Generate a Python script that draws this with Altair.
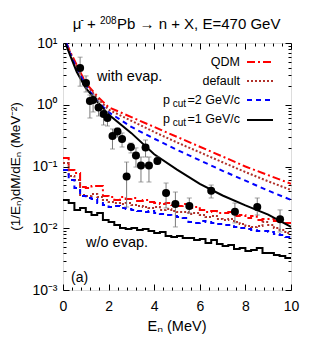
import altair as alt
import pandas as pd

FONT = "Liberation Sans"
FONT2 = "Liberation Sans, Noto Sans, DejaVu Sans"

# ---------------- data ----------------
# with-evaporation curves (E in MeV, value in MeV^-2)
E_black = [0.1, 0.3, 0.6, 1.0, 1.5, 2.0, 3.0, 4.0, 5.0, 6.0, 7.0, 8.0, 9.0, 10.0]
v_black = [10, 6.46, 3.43, 1.86, 1.12, 0.692, 0.347, 0.158, 0.0891, 0.0525, 0.0339, 0.0234, 0.0166, 0.0105]

E_other = [0.15, 0.3, 0.5, 1.0, 1.5, 2.0, 3.0, 4.0, 5.0, 6.0, 7.0, 8.0, 9.0, 10.0]
v_qdm = [10, 7.41, 5.25, 2.24, 1.38, 0.912, 0.631, 0.437, 0.302, 0.209, 0.145, 0.100, 0.0724, 0.0525]
v_default = [10, 7.24, 5.01, 2.14, 1.29, 0.832, 0.550, 0.363, 0.245, 0.170, 0.117, 0.0813, 0.0575, 0.0417]
v_pcut2 = [10, 6.92, 4.68, 2.0, 1.15, 0.759, 0.437, 0.282, 0.186, 0.126, 0.0851, 0.0589, 0.0407, 0.0288]

# without-evaporation histograms, 0.25 MeV bins from 0 to 10 MeV
h_black = [0.0287, 0.0256, 0.0198, 0.0213, 0.0183, 0.0164, 0.0177, 0.0136, 0.0126, 0.0113,
           0.0101, 0.00972, 0.0101, 0.00937, 0.00972, 0.00902, 0.00838, 0.00869, 0.00749, 0.00722,
           0.00749, 0.00695, 0.00695, 0.00645, 0.00670, 0.00577, 0.00645, 0.00556, 0.00516, 0.00535,
           0.00461, 0.00479, 0.00428, 0.00444, 0.00479, 0.00397, 0.00397, 0.00369, 0.00355, 0.00330]
h_qdm = [0.137, 0.0878, 0.0785, 0.0466, 0.0449, 0.0483, 0.0483, 0.0333, 0.0321, 0.0287,
         0.0321, 0.0298, 0.0309, 0.0276, 0.0287, 0.0266, 0.0256, 0.0247, 0.0256, 0.0238,
         0.0229, 0.0247, 0.0213, 0.0221, 0.0198, 0.0183, 0.0190, 0.0177, 0.0177, 0.0183,
         0.0158, 0.0164, 0.0147, 0.0158, 0.0136, 0.0141, 0.0141, 0.0131, 0.0126, 0.0122]
h_default = [0.114, 0.0702, 0.0605, 0.0346, 0.0333, 0.0359, 0.0321, 0.0287, 0.0266, 0.0256,
             0.0247, 0.0256, 0.0238, 0.0229, 0.0221, 0.0213, 0.0221, 0.0198, 0.0205, 0.0190,
             0.0183, 0.0183, 0.0170, 0.0177, 0.0164, 0.0152, 0.0158, 0.0141, 0.0136, 0.0141,
             0.0126, 0.0117, 0.0109, 0.0105, 0.0109, 0.0126, 0.0113, 0.0101, 0.00937, 0.00838]
h_pcut2 = [0.0878, 0.0605, 0.0449, 0.0333, 0.0309, 0.0298, 0.0256, 0.0238, 0.0221, 0.0229,
           0.0213, 0.0205, 0.0198, 0.0190, 0.0183, 0.0190, 0.0177, 0.0170, 0.0164, 0.0158,
           0.0152, 0.0147, 0.0126, 0.0122, 0.0131, 0.0126, 0.0122, 0.0117, 0.0113, 0.0113,
           0.0105, 0.0101, 0.00972, 0.00937, 0.00902, 0.00902, 0.00869, 0.00807, 0.00777, 0.00722]
bin_edges = [i * 0.25 for i in range(41)]

# experimental points
E_pts = [0.75, 1.01, 1.18, 1.32, 1.56, 1.78, 1.95, 2.17, 2.39, 2.59, 2.79, 2.98, 3.20, 3.42,
         3.62, 3.77, 4.14, 4.52, 4.93, 5.54, 6.50, 7.54, 8.52, 9.52]
y_pts = [3.94, 2.25, 1.15, 1.19, 0.90, 0.71, 0.61, 0.312, 0.369, 0.279, 0.0689, 0.207, 0.151, 0.104,
         0.203, 0.104, 0.123, 0.0372, 0.0247, 0.0229, 0.0405, 0.0185, 0.0221, 0.0140]
y_lo = [2.0, 1.61, 0.61, 0.764, 0.658, 0.47, 0.453, 0.192, 0.30, 0.207, 0.0221, 0.166, 0.098, 0.0561,
        0.1425, 0.0561, 0.1096, 0.0213, 0.0105, 0.0177, 0.0309, 0.0122, 0.0164, 0.0087]
y_hi = [5.9, 2.93, 1.44, 1.44, 1.15, 0.822, 0.764, 0.405, 0.42, 0.349, 0.118, 0.240, 0.20, 0.1425,
        0.2685, 0.1425, 0.1425, 0.054, 0.0386, 0.0309, 0.0501, 0.0256, 0.0309, 0.0198]

x_major = [0, 2, 4, 6, 8, 10]
x_minor = [0.4, 0.8, 1.2, 1.6, 2.4, 2.8, 3.2, 3.6, 4.4, 4.8, 5.2, 5.6, 6.4, 6.8, 7.2, 7.6,
           8.4, 8.8, 9.2, 9.6]
y_major = [0.001, 0.01, 0.1, 1, 10]
y_minor = [k * 10.0 ** e for e in range(-3, 1) for k in range(2, 10)]

legend_labels = ["QDM", "default", "p", "p"]

# ---------------- scales & axes ----------------
xs = alt.Scale(domain=[0, 10], nice=False)
ys = alt.Scale(type="log", domain=[0.001, 10], nice=False)

common = dict(grid=False, domain=False, ticks=True, tickColor="black", tickWidth=1, title=None,
              labelFont=FONT2, labelColor="black", labelFontSize=14)


def ax(orient, values, size, labels=False, **kw):
    return alt.Axis(orient=orient, values=values, tickSize={"expr": str(-size)}, labels=labels,
                    **common, **kw)


ax_xb = ax("bottom", x_major, 6, labels=True, labelPadding=15, format="d", labelFlush=False,
           labelOverlap=False)
ax_xt = ax("top", x_major, 6)
ax_xb2 = ax("bottom", x_minor, 3)
ax_xt2 = ax("top", x_minor, 3)
ax_yl = ax("left", y_major, 6, labels=True, labelPadding=12, labelOverlap=False, labelFlush=False,
           labelExpr="'10' + ['\u207b\u00b3','\u207b\u00b2','\u207b\u00b9','\u2070','\u00b9'][round(log(datum.value)/LN10)+3]")
ax_yr = ax("right", y_major, 6)
ax_yl2 = ax("left", y_minor, 3)
ax_yr2 = ax("right", y_minor, 3)


def line_layer(E, v, xa=None, ya=None, step=False, **mk):
    df = pd.DataFrame({"E": E, "v": v})
    m = alt.Chart(df).mark_line(interpolate="step-after" if step else "linear", clip=True, **mk)
    return m.encode(x=alt.X("E:Q", scale=xs, axis=xa), y=alt.Y("v:Q", scale=ys, axis=ya))


def hist(vals):
    return list(vals) + [vals[-1]]


RED = "#ff0000"
DRED = "#b0302a"
BLUE = "#0000ff"
st_qdm = dict(color=RED, strokeWidth=2, strokeDash=[8, 3, 2, 3])
st_def = dict(color=DRED, strokeWidth=2, strokeDash=[2, 2])
st_p2 = dict(color=BLUE, strokeWidth=2, strokeDash=[5, 4])
st_p1 = dict(color="black", strokeWidth=2)

layers = [
    line_layer(bin_edges, hist(h_black), ax_xb, ax_yl, step=True, **st_p1),
    line_layer(bin_edges, hist(h_qdm), ax_xt, ax_yr, step=True, **st_qdm),
    line_layer(bin_edges, hist(h_default), ax_xb2, ax_yl2, step=True, **st_def),
    line_layer(bin_edges, hist(h_pcut2), ax_xt2, ax_yr2, step=True, **st_p2),
    line_layer(E_other, v_qdm, **st_qdm),
    line_layer(E_other, v_default, **st_def),
    line_layer(E_other, v_pcut2, **st_p2),
    line_layer(E_black, v_black, **st_p1),
]

pts = pd.DataFrame({"E": E_pts, "y": y_pts, "lo": y_lo, "hi": y_hi})
GRAY = "#7a7a7a"
layers.append(alt.Chart(pts).mark_rule(color=GRAY, strokeWidth=1).encode(
    x=alt.X("E:Q", scale=xs, axis=None), y=alt.Y("lo:Q", scale=ys, axis=None), y2="hi:Q"))
layers.append(alt.Chart(pts).mark_tick(color=GRAY, orient="horizontal", size=5, thickness=1).encode(
    x=alt.X("E:Q", scale=xs, axis=None), y=alt.Y("lo:Q", scale=ys, axis=None)))
layers.append(alt.Chart(pts).mark_tick(color=GRAY, orient="horizontal", size=5, thickness=1).encode(
    x=alt.X("E:Q", scale=xs, axis=None), y=alt.Y("hi:Q", scale=ys, axis=None)))
layers.append(alt.Chart(pts).mark_circle(color="black", opacity=1, size=64).encode(
    x=alt.X("E:Q", scale=xs, axis=None), y=alt.Y("y:Q", scale=ys, axis=None)))

dummy = pd.DataFrame({"a": [0]})


def txt(text, x, y, size=12.5, align="left", baseline="middle", angle=0, font=FONT):
    return alt.Chart(dummy).mark_text(text=text, font=font, fontSize=size, align=align,
                                      baseline=baseline, angle=angle, color="black").encode(
        x=alt.value(x), y=alt.value(y))


def rule(x1, x2, y, **st):
    return alt.Chart(dummy).mark_rule(**st).encode(x=alt.value(x1), x2=alt.value(x2), y=alt.value(y))


# legend
rows = [19, 38, 57, 76]
layers += [
    txt(legend_labels[0], 177, rows[0], align="right"),
    txt(legend_labels[1], 177, rows[1], align="right"),
    txt("=2 GeV/c", 177, rows[2], align="right"),
    txt("cut", 123, rows[2] + 4, size=10, align="right"),
    txt(legend_labels[2], 107, rows[2], align="right"),
    txt("=1 GeV/c", 177, rows[3], align="right"),
    txt("cut", 123, rows[3] + 4, size=10, align="right"),
    txt(legend_labels[3], 107, rows[3], align="right"),
    rule(184, 210, rows[0], **st_qdm),
    rule(184, 210, rows[1], **st_def),
    rule(184, 210, rows[2], **st_p2),
    rule(184, 210, rows[3] + 1, **st_p1),
]

# annotations
layers += [
    txt("with evap.", 34, 34, size=14.5),
    txt("w/o evap.", 23, 200, size=14.5),
    txt("(a)", 8, 235, size=14),
]

# title pieces
layers += [
    txt("\u03bc", 9.7, -13.7, size=15, baseline="alphabetic"),
    txt("-", 17.5, -20, size=10, baseline="alphabetic"),
    txt("+", 24, -13.7, size=15, baseline="alphabetic"),
    txt("208", 37, -19.5, size=10, baseline="alphabetic"),
    txt("Pb \u2192 n + X, E=470 GeV", 54, -13.7, size=15, baseline="alphabetic"),
]

# axis titles
layers += [
    txt("E\u2099 (MeV)", 114, 284, size=14.5, align="center", font=FONT2),
    txt("(1/E\u2099)dM/dE\u2099 (MeV\u207b\u00b2)", -47, 123.5, size=13.5, align="center",
        angle=270, font=FONT2),
]

chart = alt.layer(*layers).resolve_axis(x="independent", y="independent").properties(
    width=228, height=247,
    padding={"left": 55, "top": 35, "right": 19, "bottom": 54},
    autosize=alt.AutoSizeParams(type="none"),
).configure_view(stroke="black", strokeWidth=1).configure(background="white")

chart.save("out.html", embed_options={"renderer": "svg", "actions": False})
